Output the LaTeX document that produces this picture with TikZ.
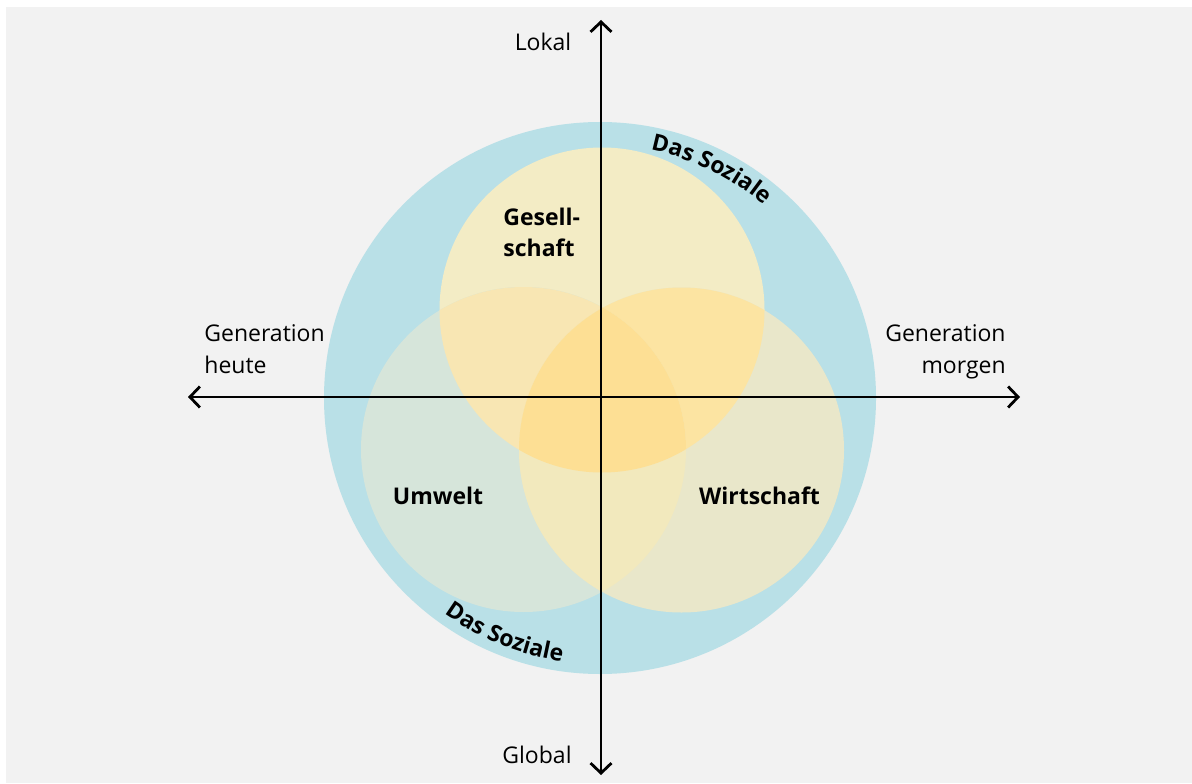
\documentclass[tikz,border=0pt]{standalone}
\usepackage{fontspec}
\setmainfont{Open Sans}
\usetikzlibrary{arrows.meta,decorations.text}
\definecolor{bggray}{HTML}{F2F2F2}
\definecolor{ring}{HTML}{B9E0E7}
\definecolor{cG}{HTML}{F3ECC5}
\definecolor{cU}{HTML}{D6E5DA}
\definecolor{cW}{HTML}{E9E7CA}
\definecolor{cGU}{HTML}{F8E6B3}
\definecolor{cGW}{HTML}{FCE4A2}
\definecolor{cUW}{HTML}{F2E9BD}
\definecolor{cGUW}{HTML}{FDDF94}
\begin{document}
\begin{tikzpicture}[x=0.5pt,y=0.5pt,
  font=\fontsize{11.5}{15.7}\selectfont,
  axis/.style={line width=1.4pt,
    {Straight Barb[length=5pt,width=10.5pt]}-{Straight Barb[length=5pt,width=10.5pt]}},
  lbl/.style={inner sep=0pt},
  boldlbl/.style={inner sep=0pt, font=\fontsize{11.5}{15.8}\selectfont\bfseries},
  arctext/.style={decorate, decoration={text along path, text align=center,
    text={|\fontsize{11.5}{14}\selectfont\bfseries|Das Soziale}}}]
\useasboundingbox (0,0) rectangle (1192,783);
\fill[white] (0,0) rectangle (1192,783);
\fill[bggray] (6,0) rectangle (1192,776);

\coordinate (O) at (600,385);
\coordinate (cg) at (602,473);
\coordinate (cu) at (523.5,333.5);
\coordinate (cw) at (681.5,333);
\def\rs{162.5}

% outer ring
\fill[ring] (O) circle[radius=276];
% single circles
\fill[cG] (cg) circle[radius=\rs];
\fill[cU] (cu) circle[radius=\rs];
\fill[cW] (cw) circle[radius=\rs];
% pairwise overlaps
\begin{scope}
  \clip (cg) circle[radius=\rs];
  \fill[cGU] (cu) circle[radius=\rs];
  \fill[cGW] (cw) circle[radius=\rs];
\end{scope}
\begin{scope}
  \clip (cu) circle[radius=\rs];
  \fill[cUW] (cw) circle[radius=\rs];
\end{scope}
\begin{scope}
  \clip (cg) circle[radius=\rs];
  \clip (cu) circle[radius=\rs];
  \fill[cGUW] (cw) circle[radius=\rs];
\end{scope}

% curved labels
\path[arctext] (O) ++(85:253) arc[start angle=85, end angle=43, radius=253];
\path[arctext] (O) ++(228:266) arc[start angle=228, end angle=268, radius=266];

% axes
\coordinate (L) at (188,386);
\coordinate (R) at (1020,386);
\coordinate (T) at (601,763);
\coordinate (B) at (601,8);
\draw[axis] (L) -- (R);
\draw[axis] (B) -- (T);

% axis labels
\node[lbl] (lokal) at (543,741) {Lokal};
\node[lbl] (global) at (537,28) {Global};
\node[lbl, anchor=base west, align=left] (heute) at (204,410) {Generation\\heute};
\node[lbl, anchor=base east, align=right] (morgen) at (1006,410) {Generation\\morgen};

% circle labels
\node[boldlbl, anchor=base west, align=left] (ges) at (503,526) {Gesell-\\schaft};
\node[boldlbl, anchor=base] (umw) at (438,279) {Umwelt};
\node[boldlbl, anchor=base] (wirt) at (759.5,279) {Wirtschaft};
\end{tikzpicture}
\end{document}
